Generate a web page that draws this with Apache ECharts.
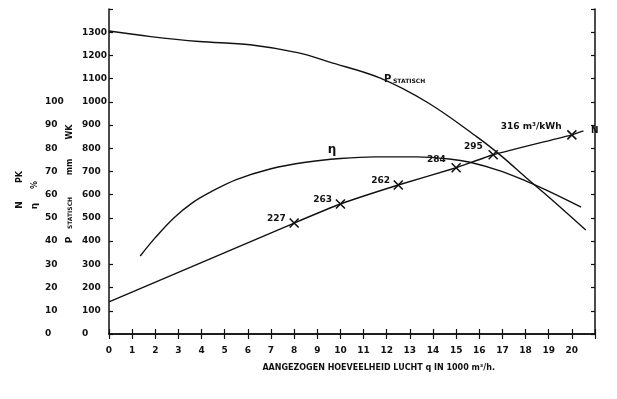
<!DOCTYPE html>
<html><head><meta charset="utf-8">
<script src="https://cdn.jsdelivr.net/npm/echarts@6/dist/echarts.min.js"></script>
<style>html,body{margin:0;padding:0;background:#fff}#c{width:617px;height:399px}</style>
</head><body><div id="c"></div>
<script>
// X axis: aangezogen hoeveelheid lucht q (1000 m3/h)
const xTicks = [0,1,2,3,4,5,6,7,8,9,10,11,12,13,14,15,16,17,18,19,20];
// P statisch (mm WK)
const pX = [0, 1.8, 3.9, 6.1, 8.2, 9.5, 11.7, 13.8, 15.9, 17, 18, 19, 20.6];
const pY = [1305, 1281, 1260, 1246, 1211, 1172, 1103, 995, 849, 763, 675, 590, 448];
// eta (%)
const etaX = [1.35, 2.0, 2.8, 3.6, 4.4, 5.5, 7.0, 8.5, 10, 11.5, 13.3, 14.7, 15.6, 16.9, 18.0, 18.9, 20.4];
const etaY = [33.6, 41.5, 50, 56.5, 61.2, 66.5, 71.2, 74, 75.6, 76.3, 76.3, 75.4, 74, 70.3, 66, 62, 54.7];
// N (PK)
const nX = [0, 8, 10, 12.5, 15, 16.6, 20, 20.5];
const nY = [13.8, 47.8, 56, 64.2, 71.6, 77.2, 85.8, 87.5];
// marker labels (m3/kWh) for N points 1..6
const nMarks = ['', '227', '263', '262', '284', '295', '316 m³/kWh', ''];

const F = 'DejaVu Sans';
const lbl = {fontFamily: F, fontSize: 9, fontWeight: 'bold', color: '#111'};
const cross = 'path://M0,0L10,10M10,0L0,10';

const chart = echarts.init(document.getElementById('c'));
chart.setOption({
  animation: false,
  backgroundColor: '#fff',
  grid: {left: 109, right: 22, top: 9, bottom: 65},
  xAxis: [{
    type: 'value', min: 0, max: 21, interval: 1,
    axisLine: {lineStyle: {color: '#111', width: 1.5}},
    axisTick: {inside: true, length: 5, lineStyle: {color: '#111', width: 1.2}},
    splitLine: {show: false},
    axisLabel: Object.assign({margin: 12, formatter: v => xTicks.indexOf(v) >= 0 ? String(v) : ''}, lbl),
    name: 'AANGEZOGEN HOEVEELHEID LUCHT q IN 1000 m³/h.',
    nameLocation: 'end', nameGap: 0,
    nameTextStyle: {fontFamily: F, fontSize: 8, fontWeight: 'bold', color: '#111', align: 'right', verticalAlign: 'top', padding: [30, 100, 0, 0]}
  }, {
    type: 'value', min: 0, max: 21, interval: 1, position: 'top',
    axisLine: {lineStyle: {color: '#111', width: 1.5}},
    axisTick: {inside: true, length: 5, lineStyle: {color: '#111', width: 1.2}},
    axisLabel: {show: false}, splitLine: {show: false}
  }],
  yAxis: [{
    type: 'value', min: 0, max: 1400, interval: 100,
    axisLine: {show: true, lineStyle: {color: '#111', width: 1.5}},
    axisTick: {show: true, inside: true, length: 4, lineStyle: {color: '#111', width: 1.2}},
    splitLine: {show: false},
    axisLabel: Object.assign({align: 'left', margin: 27, formatter: v => v <= 1300 ? String(v) : ''}, lbl)
  }, {
    type: 'value', min: 0, max: 140, interval: 10, position: 'left',
    axisLine: {show: false}, axisTick: {show: false}, splitLine: {show: false},
    axisLabel: Object.assign({align: 'left', margin: 64, formatter: v => v <= 100 ? String(v) : ''}, lbl)
  }, {
    type: 'value', min: 0, max: 1400, interval: 100, position: 'right',
    axisLine: {show: true, lineStyle: {color: '#111', width: 1.5}},
    axisTick: {show: true, inside: true, length: 4, lineStyle: {color: '#111', width: 1.2}},
    axisLabel: {show: false}, splitLine: {show: false}
  }],
  series: [{
    type: 'line', name: 'P statisch', yAxisIndex: 0, smooth: 0.35, showSymbol: false,
    lineStyle: {color: '#111', width: 1.4},
    data: pX.map((x, i) => [x, pY[i]])
  }, {
    type: 'line', name: 'eta', yAxisIndex: 1, smooth: 0.35, showSymbol: false,
    lineStyle: {color: '#111', width: 1.4},
    data: etaX.map((x, i) => [x, etaY[i]])
  }, {
    type: 'line', name: 'N', yAxisIndex: 1, smooth: 0.15,
    symbol: cross, symbolSize: 9,
    itemStyle: {color: 'rgba(0,0,0,0)', borderColor: '#111', borderWidth: 1.6},
    lineStyle: {color: '#111', width: 1.4},
    data: nX.map((x, i) => {
      const d = {value: [x, nY[i]]};
      if (!nMarks[i]) { d.symbol = 'none'; }
      else {
        d.label = Object.assign({show: true, formatter: nMarks[i], position: 'left', distance: 3,
          offset: i >= 4 ? [-2, -8] : [0, -4]}, lbl);
      }
      return d;
    })
  }],
  graphic: [
    {type: 'text', x: 332, y: 150, style: {text: 'η', font: 'bold 12px ' + F, fill: '#111', textAlign: 'center', textVerticalAlign: 'middle'}},
    {type: 'text', x: 384, y: 79, style: {text: 'P', font: 'bold 10px ' + F, fill: '#111', textVerticalAlign: 'middle'}},
    {type: 'text', x: 393, y: 81, style: {text: 'STATISCH', font: 'bold 6px ' + F, fill: '#111', textVerticalAlign: 'middle'}},
    {type: 'text', x: 591, y: 131, style: {text: 'N', font: 'bold 9px ' + F, fill: '#111', textVerticalAlign: 'middle'}},
    {type: 'text', x: 20, y: 205, rotation: Math.PI / 2, style: {text: 'N', font: 'bold 9px ' + F, fill: '#111', textAlign: 'center', textVerticalAlign: 'middle'}},
    {type: 'text', x: 20, y: 177, rotation: Math.PI / 2, style: {text: 'PK', font: 'bold 8px ' + F, fill: '#111', textAlign: 'center', textVerticalAlign: 'middle'}},
    {type: 'text', x: 35, y: 206, rotation: Math.PI / 2, style: {text: 'η', font: 'bold 9px ' + F, fill: '#111', textAlign: 'center', textVerticalAlign: 'middle'}},
    {type: 'text', x: 35, y: 185, rotation: Math.PI / 2, style: {text: '%', font: 'bold 8px ' + F, fill: '#111', textAlign: 'center', textVerticalAlign: 'middle'}},
    {type: 'text', x: 70, y: 240, rotation: Math.PI / 2, style: {text: 'P', font: 'bold 9px ' + F, fill: '#111', textAlign: 'center', textVerticalAlign: 'middle'}},
    {type: 'text', x: 70, y: 213, rotation: Math.PI / 2, style: {text: 'STATISCH', font: 'bold 6px ' + F, fill: '#111', textAlign: 'center', textVerticalAlign: 'middle'}},
    {type: 'text', x: 70, y: 167, rotation: Math.PI / 2, style: {text: 'mm', font: 'bold 8px ' + F, fill: '#111', textAlign: 'center', textVerticalAlign: 'middle'}},
    {type: 'text', x: 70, y: 132, rotation: Math.PI / 2, style: {text: 'WK', font: 'bold 8px ' + F, fill: '#111', textAlign: 'center', textVerticalAlign: 'middle'}}
  ]
});
</script></body></html>
